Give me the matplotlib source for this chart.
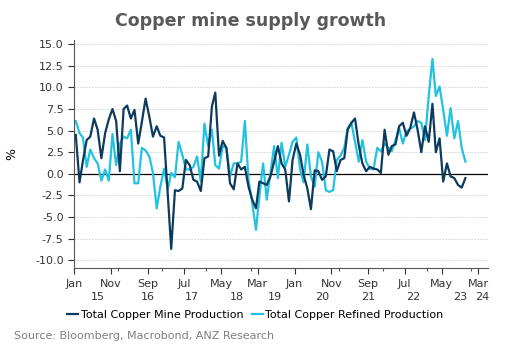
import numpy as np
import pandas as pd
import matplotlib
matplotlib.use("Agg")
import matplotlib.pyplot as plt
import matplotlib.dates as mdates
from matplotlib.ticker import FixedLocator, FuncFormatter

# monthly y/y growth, %, Jan 2015 onwards
mine = [4.5, -1.0, 1.5, 3.9, 4.3, 6.4, 5.1, 1.8, 4.7, 6.3,
        7.5, 6.1, 0.3, 7.5, 7.9, 6.4, 7.4, 3.5, 6.0, 8.7,
        6.6, 4.3, 5.5, 4.4, 4.2, -2.5, -8.7, -1.9, -2.0, -1.7,
        1.6, 1.0, -0.7, -0.9, -2.0, 1.8, 2.0, 7.8, 9.4, 2.1,
        3.8, 3.0, -1.1, -1.8, 1.2, 0.5, 0.8, -1.5, -3.0, -4.0,
        -0.9, -1.1, -1.3, -0.3, 1.4, 3.2, 1.2, 0.5, -3.2, 1.6,
        3.5, 2.2, -0.1, -1.7, -4.1, 0.4, 0.3, -0.7, -0.3, 2.8,
        2.6, 0.3, 1.6, 1.8, 5.1, 5.9, 6.4, 3.3, 1.2, 0.3,
        0.8, 0.6, 0.5, 0.1, 5.1, 2.2, 3.2, 3.4, 5.5, 5.9,
        4.4, 5.3, 7.1, 5.1, 2.5, 5.5, 3.7, 8.1, 2.5, 4.1,
        -0.9, 1.2, -0.3, -0.5, -1.3, -1.6, -0.5]
refined = [6.1, 4.7, 4.2, 0.8, 2.8, 1.8, 1.2, -0.8, 0.5, -0.8,
           4.6, 1.0, 3.5, 4.3, 4.1, 5.1, -1.1, -1.1, 3.0, 2.7,
           2.0, 0.1, -4.0, -1.5, 0.6, -1.8, 0.1, -0.4, 3.7, 2.2,
           0.5, 0.5, 0.8, 2.0, -0.9, 5.8, 3.2, 5.1, 1.0, 0.6,
           3.2, 3.0, -0.3, 1.2, 1.2, 1.4, 6.1, -0.7, -3.4, -6.5,
           -2.6, 1.2, -3.0, 0.1, 3.2, -0.5, 3.6, 0.8, 2.2, 3.7,
           4.2, 0.5, -1.0, 3.4, -0.3, -1.5, 2.5, 1.4, -1.9, -2.1,
           -1.9, 1.6, 2.1, 3.0, 5.3, 5.9, 3.7, 1.4, 3.9, 1.4,
           0.6, 0.5, 3.0, 2.6, 3.5, 3.0, 2.6, 3.9, 5.3, 3.5,
           4.9, 5.2, 5.5, 6.1, 5.9, 3.9, 9.0, 13.3, 9.0, 10.1,
           7.4, 4.4, 7.6, 4.1, 6.1, 3.0, 1.4]

year_labels = ["15", "16", "17", "18", "19", "20", "21", "22", "23", "24"]
year_label_dates = ["2015-07-15", "2016-09-05", "2017-09-05", "2018-09-12", "2019-07-25",
                    "2020-08-18", "2021-09-03", "2022-09-12", "2023-10-06", "2024-04-05"]

dark = "#0d3b5e"
light = "#22c3e0"

dates = pd.date_range("2015-01-01", periods=len(mine), freq="MS") + pd.Timedelta(days=14)

fig = plt.figure(figsize=(5.11, 3.53), dpi=100)
ax = fig.add_axes([0.145, 0.241, 0.81, 0.646])

ax.plot(dates, mine, color=dark, lw=1.6, label="Total Copper Mine Production", zorder=3)
ax.plot(dates, refined, color=light, lw=1.6, label="Total Copper Refined Production", zorder=2)
ax.axhline(0, color="black", lw=0.9, zorder=1.8)

ax.set_ylim(-10.9, 15.5)
ax.set_xlim(pd.Timestamp("2015-01-01"), pd.Timestamp("2024-05-20"))
ax.set_yticks(np.arange(-10, 15.1, 2.5))
ax.yaxis.set_major_formatter(FuncFormatter(lambda v, p: f"{v:.1f}"))
ax.grid(axis="y", color="#d9dde3", lw=0.7, ls=(0, (2, 1)))
ax.set_ylabel("%", fontsize=9)
ax.yaxis.set_label_coords(-0.135, 0.5)

major = pd.date_range("2015-01-01", "2024-03-01", freq="10MS")
ax.xaxis.set_major_locator(FixedLocator(mdates.date2num(major)))
ax.set_xticklabels([d.strftime("%b") for d in major])
years = pd.date_range("2016-01-01", "2024-01-01", freq="YS")
ax.xaxis.set_minor_locator(FixedLocator(mdates.date2num(years)))

for s in ["top", "right"]:
    ax.spines[s].set_visible(False)
for s in ["left", "bottom"]:
    ax.spines[s].set_color("#555555")
ax.tick_params(axis="both", labelsize=8, colors="#333333", length=4, width=0.8)
ax.tick_params(axis="x", which="minor", length=2.5, width=0.8, colors="#555555")
ax.tick_params(axis="x", pad=4)

tr = ax.get_xaxis_transform()
for lab, d in zip(year_labels, year_label_dates):
    ax.text(pd.Timestamp(d), -0.105, lab, transform=tr, ha="center", va="top",
            fontsize=8, color="#333333")

fig.text(0.49, 0.94, "Copper mine supply growth", ha="center", va="center",
         fontsize=12.5, fontweight="bold", color="#595959")
fig.legend(loc="center", bbox_to_anchor=(0.5, 0.108), ncol=2, frameon=False,
           fontsize=8, handlelength=1.0, handletextpad=0.2, columnspacing=0.8)
fig.text(0.027, 0.048, "Source: Bloomberg, Macrobond, ANZ Research", ha="left", va="center",
         fontsize=8, color="#7f7f7f")

fig.savefig("out.png", dpi=100)
